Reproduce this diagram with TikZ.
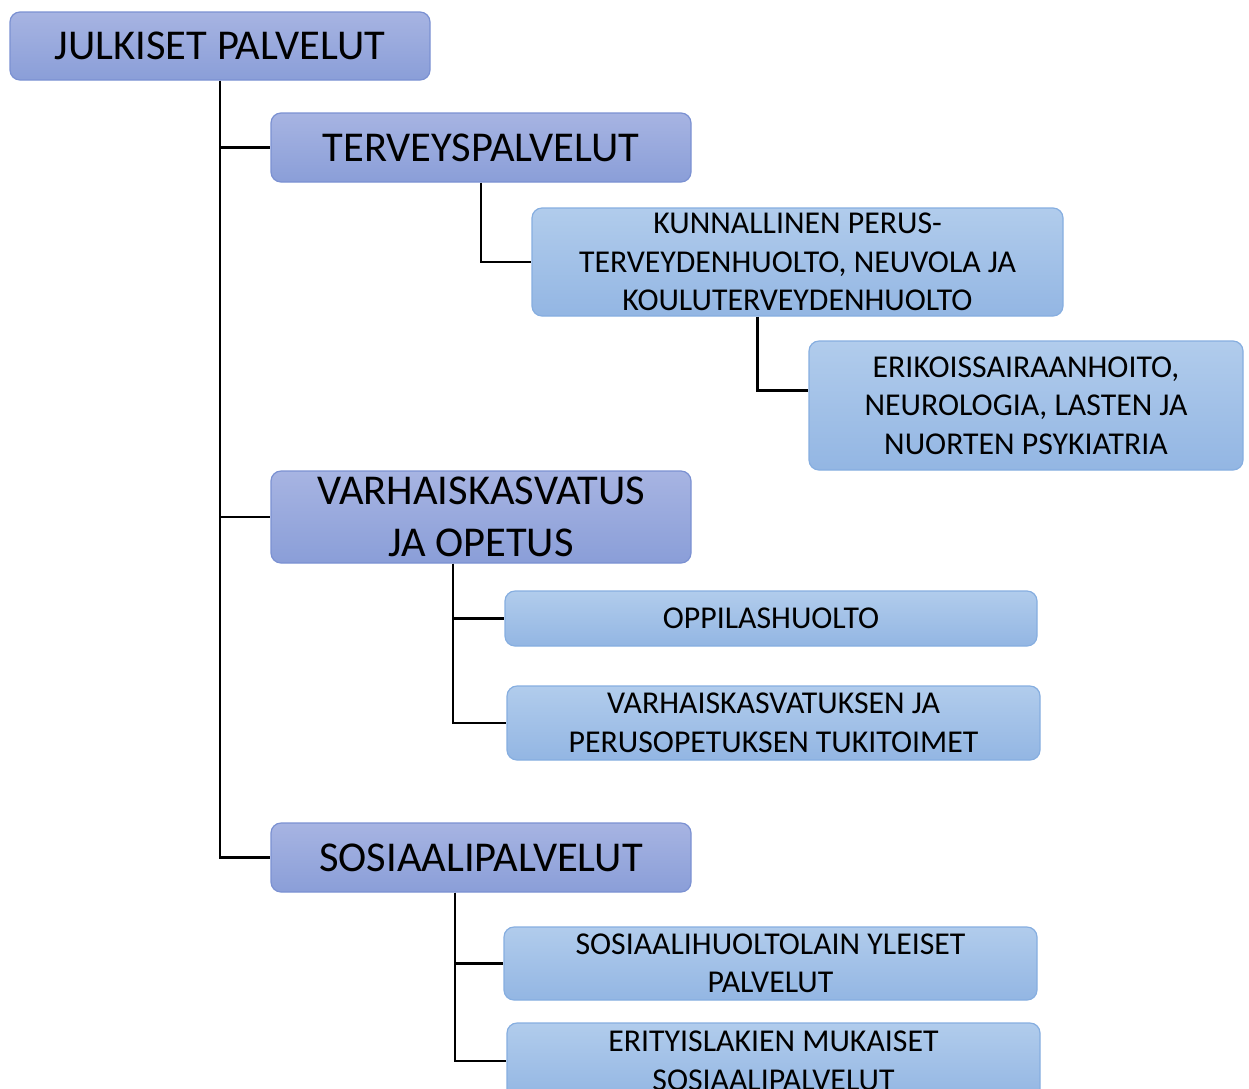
\documentclass[tikz,border=0pt]{standalone}
\usepackage{fontspec}
\setmainfont{Carlito}
\definecolor{maintop}{HTML}{A7B4E2}
\definecolor{mainbot}{HTML}{8A9ED8}
\definecolor{mainedge}{HTML}{7B91D2}
\definecolor{subtop}{HTML}{B1CCEC}
\definecolor{subbot}{HTML}{93B6E3}
\definecolor{subedge}{HTML}{86AEE0}

\begin{document}
\begin{tikzpicture}[x=1pt, y=-1pt, line width=2.6pt]
        \tikzstyle{mainbox}=[draw=mainedge, line width=1.2pt, rounded corners=10pt, top color=maintop, bottom color=mainbot, align=center, font=\fontsize{42.5}{52}\selectfont, inner sep=0pt]
        \tikzstyle{subbox}=[draw=subedge, line width=1.2pt, rounded corners=10pt, top color=subtop, bottom color=subbot, align=center, font=\fontsize{31.8}{38.5}\selectfont, inner sep=0pt]
        \useasboundingbox (0,0) rectangle (1249,1088);
        % top level
        \node [mainbox, minimum width=420pt, minimum height=68pt] (julkiset) at (220,46) {JULKISET PALVELUT};
        \node [mainbox, minimum width=420pt, minimum height=69pt] (terveys) at (481,147.5) {TERVEYSPALVELUT};
        \node [mainbox, minimum width=420pt, minimum height=92pt] (varhais) at (481,517) {VARHAISKASVATUS\\JA OPETUS};
        \node [mainbox, minimum width=420pt, minimum height=69pt] (sosiaali) at (481,857.5) {SOSIAALIPALVELUT};
        % health
        \node [subbox, minimum width=531pt, minimum height=108pt] (perus) at (797.5,262) {KUNNALLINEN PERUS-\\TERVEYDENHUOLTO, NEUVOLA JA\\KOULUTERVEYDENHUOLTO};
        \node [subbox, minimum width=434pt, minimum height=129pt] (erikois) at (1026,405.5) {ERIKOISSAIRAANHOITO,\\NEUROLOGIA, LASTEN JA\\NUORTEN PSYKIATRIA};
        % education
        \node [subbox, minimum width=532pt, minimum height=55pt] (oppilas) at (771,618.5) {OPPILASHUOLTO};
        \node [subbox, minimum width=533pt, minimum height=74pt] (tuki) at (773.5,723) {VARHAISKASVATUKSEN JA\\PERUSOPETUKSEN TUKITOIMET};
        % social
        \node [subbox, minimum width=533pt, minimum height=73pt] (yleiset) at (770.5,963.5) {SOSIAALIHUOLTOLAIN YLEISET\\PALVELUT};
        \node [subbox, minimum width=533pt, minimum height=76pt] (erityis) at (773.5,1061) {ERITYISLAKIEN MUKAISET\\SOSIAALIPALVELUT};
        % connectors
        \draw (julkiset.south) |- (sosiaali.west);
        \draw (julkiset.south |- terveys.west) -- (terveys.west);
        \draw (julkiset.south |- varhais.west) -- (varhais.west);
        \draw (terveys.south) |- (perus.west);
        \draw ([xshift=-40pt]perus.south) |- ([yshift=15pt]erikois.west);
        \draw ([xshift=-28pt]varhais.south) |- (oppilas.west);
        \draw ([xshift=-28pt]varhais.south) |- (tuki.west);
        \draw ([xshift=-26pt]sosiaali.south) |- (yleiset.west);
        \draw ([xshift=-26pt]sosiaali.south) |- (erityis.west);
    \end{tikzpicture}
\end{document}
